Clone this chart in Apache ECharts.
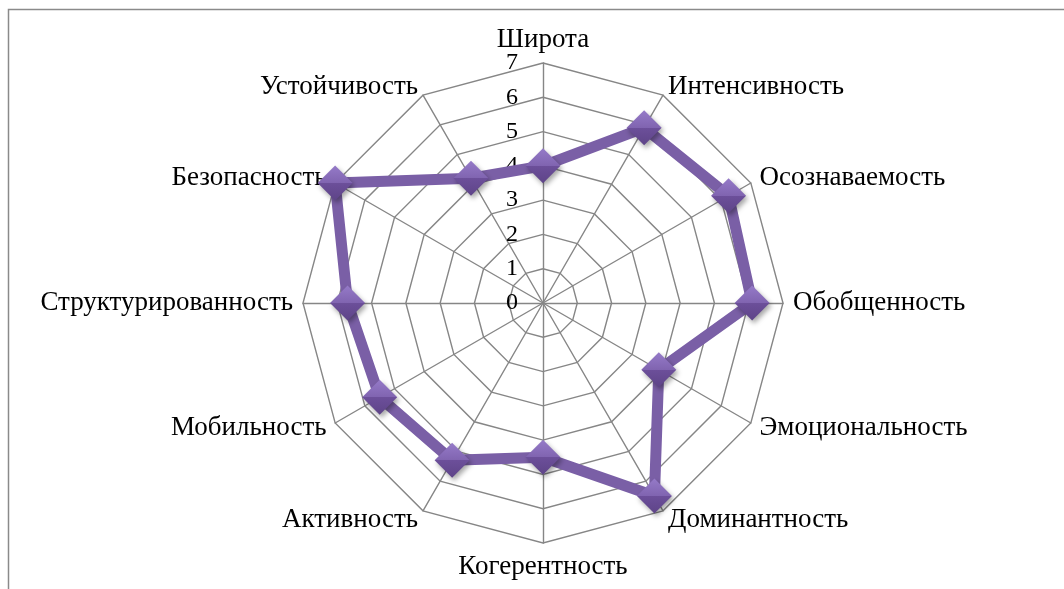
<!DOCTYPE html>
<html>
<head>
<meta charset="utf-8">
<script src="https://cdn.jsdelivr.net/npm/echarts@6/dist/echarts.min.js"></script>
<style>
html, body { margin: 0; padding: 0; background: #fff; }
#chart { width: 1064px; height: 589px; }
</style>
</head>
<body>
<div id="chart"></div>
<script>
// indicators, clockwise from top
var categories = ["Широта", "Интенсивность", "Осознаваемость", "Обобщенность",
    "Эмоциональность", "Доминантность", "Когерентность", "Активность",
    "Мобильность", "Структурированность", "Безопасность", "Устойчивость"];
var values = [4, 5.9, 6.25, 6.1, 3.9, 6.5, 4.5, 5.3, 5.5, 5.7, 7, 4.2];
var tickLabels = [0, 1, 2, 3, 4, 5, 6, 7];
var maxValue = 7;

var chart = echarts.init(document.getElementById("chart"));
var font = "'Liberation Serif', 'Times New Roman', serif";
var center = [543, 303];
var radius = 240;

// echarts radar runs counter-clockwise, so keep first and reverse the rest
var order = [0];
for (var i = categories.length - 1; i > 0; i--) order.push(i);

var indicator = order.map(function (i) {
    return { name: categories[i], min: 0, max: maxValue };
});
var seriesValues = order.map(function (i) { return values[i]; });

chart.setOption({
    animation: false,
    graphic: [{
        type: 'polyline',
        shape: { points: [[8.5, 589], [8.5, 9.5], [1064, 9.5]] },
        style: { stroke: '#8a8a8a', lineWidth: 1.5, fill: null }
    }],
    radar: {
        center: center,
        radius: radius,
        startAngle: 90,
        splitNumber: tickLabels.length - 1,
        shape: 'polygon',
        indicator: indicator,
        axisName: {
            color: '#000',
            fontFamily: font,
            fontSize: 27
        },
        nameGap: 10,
        axisLine: { lineStyle: { color: '#868686', width: 1.4 } },
        splitLine: { lineStyle: { color: '#868686', width: 1.4 } },
        splitArea: { show: false }
    },
    polar: { center: center, radius: radius },
    angleAxis: {
        startAngle: 90, show: false, min: 0, max: 360
    },
    radiusAxis: {
        min: 0,
        max: maxValue,
        interval: 1,
        axisLine: { show: false },
        axisTick: { show: false },
        splitLine: { show: false },
        axisLabel: {
            show: true,
            color: '#000',
            fontFamily: font,
            fontSize: 24,
            margin: 25,
            formatter: function (v) { return tickLabels.indexOf(v) >= 0 ? String(v) : ''; }
        },
        z: 1
    },
    series: [{
        type: 'radar',
        symbol: 'diamond',
        symbolSize: 35,
        lineStyle: { color: '#7a5fa6', width: 11 },
        itemStyle: {
            color: {
                type: 'linear', x: 0, y: 0, x2: 0, y2: 1,
                colorStops: [
                    { offset: 0, color: '#957ac8' },
                    { offset: 0.5, color: '#8064b0' },
                    { offset: 0.5, color: '#6c4f9a' },
                    { offset: 1, color: '#5e4488' }
                ]
            },
            shadowColor: 'rgba(0,0,0,0.35)',
            shadowBlur: 5,
            shadowOffsetX: 2,
            shadowOffsetY: 3
        },
        data: [{ value: seriesValues }],
        z: 3
    }]
});
</script>
</body>
</html>
